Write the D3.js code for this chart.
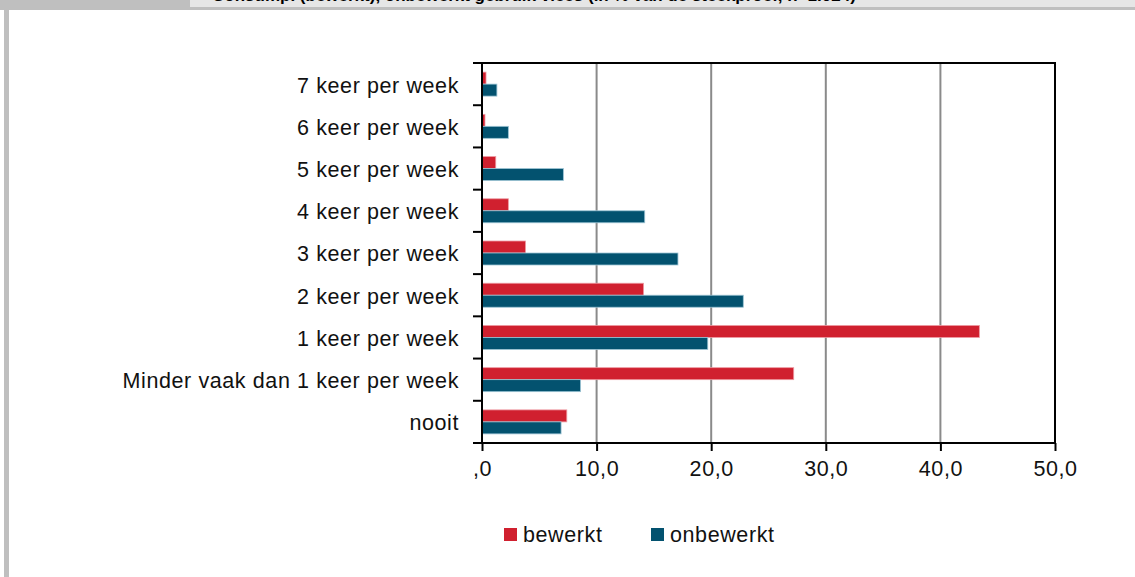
<!DOCTYPE html>
<html>
<head>
<meta charset="utf-8">
<script src="https://cdn.jsdelivr.net/npm/d3@7"></script>
<style>
    body { margin: 0; background: #ffffff; }
    svg text { font-family: "Liberation Sans", Arial, sans-serif; }
</style>
</head>
<body>
<script>
// categories top to bottom
const categories = [
    '7 keer per week',
    '6 keer per week',
    '5 keer per week',
    '4 keer per week',
    '3 keer per week',
    '2 keer per week',
    '1 keer per week',
    'Minder vaak dan 1 keer per week',
    'nooit'
];
const seriesNames = ['bewerkt', 'onbewerkt'];
const bewerkt   = [0.35, 0.26, 1.2, 2.3, 3.8, 14.1, 43.4, 27.2, 7.4];
const onbewerkt = [1.3, 2.3, 7.1, 14.2, 17.1, 22.8, 19.7, 8.6, 6.9];
const xTicks = [0, 10, 20, 30, 40, 50];
const colours = ['#d0202f', '#03526f'];
const edgeColours = ['#ee9aa2', '#9cc4d4'];

const width = 1135;
const height = 577;
const plotLeft = 482, plotRight = 1055, plotTop = 63, plotBottom = 443;
const fontSize = 21.5;
const spacing = 0.6;

let svg = d3.select('body')
                .append('svg')
                    .attr('width', width)
                    .attr('height', height);

// frame bits round the picture
svg.append('rect').attr('x', 0).attr('y', 0).attr('width', width).attr('height', 10).attr('fill', '#bfbfbf');
svg.append('rect').attr('x', 190).attr('y', 0).attr('width', width - 190).attr('height', 7).attr('fill', '#e6e6e6');
svg.append('rect').attr('x', 4).attr('y', 10).attr('width', 5).attr('height', height - 10).attr('fill', '#bfbfbf');

// title, cut off at the top like the original
svg.append('svg')
    .attr('x', 190).attr('y', 0).attr('width', width - 190).attr('height', 7)
    .append('text')
        .attr('x', 22)
        .attr('y', 1)
        .attr('font-size', 17)
        .attr('font-weight', 'bold')
        .attr('fill', '#000')
        .text('Consump. (bewerkt), onbewerkt gebruik vlees (in % van de steekproef, n=1.024)');

const xScale = d3.scaleLinear()
                    .domain([0, 50])
                    .range([plotLeft, plotRight]);

const yScale = d3.scaleBand()
                    .domain(categories)
                    .range([plotTop, plotBottom])
                    .padding(0);

const inner = d3.scaleBand()
                    .domain(seriesNames)
                    .range([0, yScale.bandwidth()])
                    .paddingInner(0)
                    .paddingOuter(0.76);

// gridlines
svg.append('g')
    .selectAll('line')
    .data(xTicks.filter(d => d > 0 && d < 50))
    .enter()
        .append('line')
            .attr('x1', d => xScale(d))
            .attr('x2', d => xScale(d))
            .attr('y1', plotTop)
            .attr('y2', plotBottom)
            .attr('stroke', '#8a8a8a')
            .attr('stroke-width', 2);

// top and right border
svg.append('path')
    .attr('d', `M${plotLeft},${plotTop}H${plotRight}V${plotBottom}`)
    .attr('fill', 'none')
    .attr('stroke', '#000')
    .attr('stroke-width', 2);

// bars
const rows = categories.map((c, i) => ({cat: c, values: [bewerkt[i], onbewerkt[i]]}));
let groups = svg.append('g')
    .selectAll('g')
    .data(rows)
    .enter()
        .append('g')
            .attr('transform', d => `translate(0, ${yScale(d.cat)})`);

groups.selectAll('rect')
    .data(d => d.values.map((v, k) => ({name: seriesNames[k], value: v, k: k})))
    .enter()
        .append('rect')
            .attr('x', xScale(0))
            .attr('y', d => inner(d.name))
            .attr('width', d => xScale(d.value) - xScale(0))
            .attr('height', inner.bandwidth())
            .attr('fill', d => colours[d.k])
            .attr('stroke', d => edgeColours[d.k])
            .attr('stroke-width', 0.8);

// y-axis: labels in the middle of the band, ticks on the band edges
let yAxis = svg.append('g')
    .attr('transform', `translate(${plotLeft}, 1.5)`)
    .call(d3.axisLeft(yScale).tickSize(0).tickPadding(23));
yAxis.select('.domain').remove();
yAxis.selectAll('text')
    .attr('font-size', fontSize)
    .attr('letter-spacing', spacing)
    .attr('fill', '#111');

const edges = categories.map(c => yScale(c)).concat([plotBottom]);
svg.append('g')
    .selectAll('line')
    .data(edges)
    .enter()
        .append('line')
            .attr('x1', plotLeft - 9)
            .attr('x2', plotLeft)
            .attr('y1', d => d)
            .attr('y2', d => d)
            .attr('stroke', '#000')
            .attr('stroke-width', 2);
svg.append('line')
    .attr('x1', plotLeft).attr('x2', plotLeft)
    .attr('y1', plotTop - 1).attr('y2', plotBottom + 1)
    .attr('stroke', '#000').attr('stroke-width', 2);

// x-axis
let xAxis = svg.append('g')
    .attr('transform', `translate(0, ${plotBottom})`)
    .call(d3.axisBottom(xScale)
        .tickValues(xTicks)
        .tickSize(8)
        .tickPadding(10)
        .tickFormat(d => d === 0 ? ',0' : d3.format('.1f')(d).replace('.', ',')));
xAxis.select('.domain')
    .attr('stroke-width', 2)
    .attr('d', `M${plotLeft},0H${plotRight}`);
xAxis.selectAll('line').attr('stroke-width', 2);
xAxis.selectAll('text')
    .attr('font-size', fontSize)
    .attr('letter-spacing', spacing)
    .attr('fill', '#111');

// legend
const legendX = [504, 651];
let legend = svg.append('g')
    .selectAll('g')
    .data(seriesNames)
    .enter()
        .append('g')
            .attr('transform', (d, i) => `translate(${legendX[i]}, 528)`);
legend.append('rect')
    .attr('width', 13)
    .attr('height', 13)
    .attr('fill', (d, i) => colours[i]);
legend.append('text')
    .attr('x', 19)
    .attr('y', 14)
    .attr('font-size', fontSize)
    .attr('letter-spacing', spacing)
    .attr('fill', '#111')
    .text(d => d);
</script>
</body>
</html>
